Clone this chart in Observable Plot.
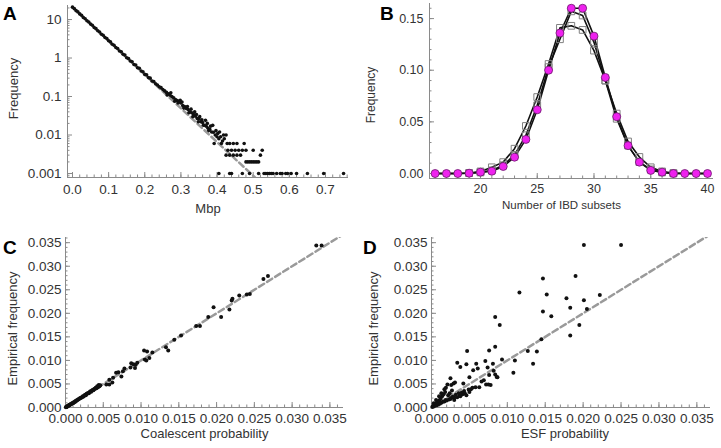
<!DOCTYPE html>
<html><head><meta charset="utf-8">
<script src="https://cdn.jsdelivr.net/npm/d3@7"></script>
<script src="https://cdn.jsdelivr.net/npm/@observablehq/plot@0.6"></script>
<style>
body{margin:0;background:#fff;}
#wrap{position:relative;width:721px;height:448px;overflow:hidden;font-family:"Liberation Sans",Arial,Helvetica,sans-serif;background:#fff;}
.panel{position:absolute;}
.tag{position:absolute;font-weight:bold;font-size:19px;line-height:19px;color:#000;}
</style></head><body><div id="wrap"></div>
<script>
// ---------- Panel A data ----------
const mbpMain = [0,0.005,0.01,0.015,0.02,0.025,0.03,0.035,0.04,0.045,0.05,0.055,0.06,0.065,0.07,0.075,0.08,0.085,0.09,0.095,0.1,0.105,0.11,0.115,0.12,0.125,0.13,0.135,0.14,0.145,0.15,0.155,0.16,0.165,0.17,0.175,0.18,0.185,0.19,0.195,0.2,0.205,0.21,0.215,0.22,0.225,0.23,0.235,0.24,0.245,0.25,0.255,0.26,0.265,0.27,0.275,0.28,0.285,0.29,0.295,0.3,0.305,0.31,0.315,0.32,0.325,0.33,0.335,0.34,0.345,0.35,0.355,0.36,0.365,0.37,0.375,0.38,0.385,0.39,0.395,0.4,0.405,0.41,0.415,0.42];
const freqMain = [21.0,19.2,17.0,15.8,14.0,12.9,11.3,10.5,9.3,8.6,
  7.6,7.1,6.2,5.8,5.1,4.75,4.15,3.9,3.4,3.2,
  2.8,2.62,2.28,2.15,1.87,1.77,1.52,1.45,1.25,1.19,
  1.02,0.97,0.84,0.80,0.68,0.66,0.56,0.54,0.46,0.44,
  0.375,0.365,0.31,0.30,0.252,0.245,0.215,0.20,0.18,0.17,
  0.152,0.140,0.128,0.118,0.108,0.100,0.092,0.083,0.078,0.072,
  0.068,0.058,0.055,0.049,0.046,0.040,0.038,0.034,0.031,0.027,
  0.026,0.022,0.021,0.018,0.017,0.015,0.014,0.012,0.0118,0.010,
  0.009,0.008,0.009,0.007,0.008];
const mbpScatter = [0.262,0.272,0.283,0.292,0.298,0.303,0.308,0.318,0.322,0.328,0.333,0.338,0.343,0.348,0.352,0.358,0.362,0.368,0.373,0.377,0.382,0.388,0.392,0.397,0.402,0.407,0.412,0.418,0.425,0.428];
const freqScatter = [0.110,0.125,0.075,0.068,0.080,0.072,0.050,0.055,0.038,0.047,0.030,0.040,0.034,0.022,0.030,0.025,0.018,0.024,0.020,0.013,0.017,0.0178,0.006,0.013,0.011,0.012,0.006,0.010,0.010,0.006];
const mbpTail = [0.435,0.445,0.455,0.475,
  0.43,0.44,0.45,0.46,0.47,0.48,0.50,0.525,
  0.425,0.435,0.445,0.455,0.465,0.52,
  0.48,0.485,0.49,0.495,0.50,0.505,0.51,0.515,
  0.405,0.435,0.44,0.47,0.49,0.515,0.53,0.535,0.54,0.545,0.55,0.555,0.565,0.575,0.58,0.59,0.595,0.605,0.62,0.65,0.695,0.75];
const freqTail = [0.006,0.006,0.006,0.006,
  0.004,0.004,0.004,0.004,0.004,0.004,0.004,0.004,
  0.003,0.003,0.003,0.003,0.003,0.003,
  0.002,0.002,0.002,0.002,0.002,0.002,0.002,0.002,
  0.001,0.001,0.001,0.001,0.001,0.001,0.001,0.001,0.001,0.001,0.001,0.001,0.001,0.001,0.001,0.001,0.001,0.001,0.001,0.001,0.001,0.001];
const fitMbp = [0, 0.505];
const fitFreq = [21, 0.00079];
const ticksAx = [0,0.1,0.2,0.3,0.4,0.5,0.6,0.7];
const ticksAy = [0.001,0.01,0.1,1,10];

// ---------- Panel B data ----------
const nIBD = [16,17,18,19,20,21,22,23,24,25,26,27,28,29,30,31,32,33,34,35,36,37,38,39,40];
const freqTheory = [0,0,0,0.0003,0.0013,0.0022,0.0068,0.0158,0.033,0.0617,0.100,0.136,0.160,0.160,0.133,0.093,0.055,0.027,0.011,0.003,0.0013,0,0,0,0];
const freqSimA = [0,0,0,0.0005,0.002,0.006,0.011,0.024,0.046,0.074,0.106,0.141,0.143,0.139,0.119,0.090,0.058,0.031,0.016,0.006,0.002,0.0005,0,0,0];
const freqSimB = [0,0,0,0.0003,0.001,0.003,0.008,0.018,0.037,0.066,0.103,0.130,0.157,0.153,0.127,0.090,0.053,0.027,0.011,0.004,0.001,0,0,0,0];
const ticksBx = [20,25,30,35,40];
const ticksBy = [0,0.05,0.10,0.15];

// ---------- Panel C data ----------
const coalProb = [0.00005,0.0001,0.00015,0.0002,0.00025,0.0003,0.00035,0.0004,0.00045,0.0005,0.00055,0.0006,0.0007,0.00075,0.0008,0.0009,0.001,0.00105,0.0011,0.0012,0.0013,0.00135,0.0014,0.0015,0.0016,0.0017,0.0018,0.0019,0.002,0.0021,0.0022,0.0023,0.0024,0.0025,0.0026,0.0027,0.0028,0.0029,0.003,0.0031,0.0032,0.0033,0.0034,0.0035,0.0036,0.0037,0.0038,0.0039,0.004,0.0041,0.0042,0.0043,0.0044,0.0045,0.0046,
  0.0054,0.0058,0.0058,0.0063,0.0062,0.0067,0.0070,0.0074,0.0076,0.0078,0.0086,0.0087,0.0090,0.0093,0.0095,0.0092,0.0105,0.0107,0.0111,0.0108,0.0115,0.0104,0.0133,0.0136,0.0144,0.0153,0.0173,0.0178,0.0189,0.0196,0.0206,0.0217,0.0220,0.0221,0.0230,0.0240,0.0244,0.0262,0.0268,0.0332,0.0339];
const empFreqC = [0.00005,0.0001,0.00012,0.00022,0.00025,0.00028,0.00036,0.00042,0.00044,0.00052,0.00056,0.0006,0.00068,0.00078,0.00082,0.00088,0.00102,0.00098,0.00112,0.00118,0.00132,0.00128,0.00145,0.00152,0.00158,0.00175,0.00178,0.00195,0.002,0.00215,0.00218,0.0024,0.00235,0.00255,0.0027,0.00262,0.0029,0.00295,0.0031,0.00305,0.0033,0.00345,0.00335,0.0036,0.0037,0.00365,0.00395,0.004,0.0042,0.0041,0.0045,0.0043,0.0048,0.0045,0.0047,
  0.0049,0.0049,0.0059,0.0063,0.0053,0.0074,0.0075,0.0066,0.0077,0.0083,0.0085,0.0094,0.0092,0.0091,0.0095,0.0084,0.0102,0.0100,0.0105,0.0119,0.0117,0.0121,0.0128,0.0121,0.0144,0.0153,0.0173,0.0173,0.0192,0.0213,0.0192,0.0208,0.0227,0.0231,0.0238,0.0240,0.0241,0.0273,0.0279,0.0344,0.0344];

// ---------- Panel D data ----------
const esfProb = [0.0201,0.0250,0.0147,0.0190,0.0116,0.0152,0.0178,0.0201,0.0222,0.0147,0.0158,0.0183,0.0205,0.0084,0.0090,0.0195,0.0183,0.0145,0.0047,0.0076,0.0084,0.0093,0.0110,0.0127,0.0139,0.0134,0.0108,0.0034,0.0046,0.0059,0.0061,0.0071,0.0074,0.0081,0.0076,0.0082,0.0084,0.0086,0.0087,0.0050,0.0055,0.0038,0.0025,0.0029,0.0031,0.0072,0.0075,0.0078,0.0066,0.0069,0.0063,0.0058,0.0054,0.0049,0.0043,0.0041,0.0037,0.0030,0.0025,0.0019,0.0017,0.0019,0.0021,0.0026,
  0.0001,0.0002,0.0003,0.0004,0.0005,0.0006,0.0007,0.0008,0.0009,0.0010,0.0011,0.0012,0.0013,0.0014,0.0015,0.0016,0.0017,0.0018,0.0020,0.0022,0.0023,0.0024,0.0026,0.0028,0.0030,0.0032,0.0034,0.0036,0.0038,0.0040,0.0044,0.0046,0.0050,0.0052,0.0010,0.0006,0.0013,0.0027,0.0003,0.0042];
const empFreqD = [0.0345,0.0345,0.0274,0.0279,0.0244,0.0240,0.0232,0.0228,0.0239,0.0204,0.0194,0.0212,0.0209,0.0192,0.0175,0.0175,0.0153,0.0145,0.0120,0.0121,0.0129,0.0102,0.0100,0.0120,0.0119,0.0093,0.0074,0.0095,0.0092,0.0093,0.0083,0.0099,0.0085,0.0093,0.0069,0.0078,0.0070,0.0065,0.0064,0.0064,0.0079,0.0086,0.0062,0.0051,0.0053,0.0049,0.0049,0.0048,0.0055,0.0058,0.0043,0.0043,0.0042,0.0038,0.0035,0.0028,0.0025,0.0021,0.0018,0.0016,0.0039,0.0042,0.0049,0.0048,
  0.0001,0.0003,0.0002,0.0006,0.0004,0.0009,0.0005,0.0012,0.0007,0.0015,0.0008,0.0019,0.0010,0.0024,0.0012,0.0028,0.0013,0.0033,0.0015,0.0026,0.0017,0.0030,0.0020,0.0023,0.0016,0.0027,0.0022,0.0030,0.0024,0.0032,0.0030,0.0026,0.0033,0.0039,0.0024,0.0016,0.0030,0.0036,0.0009,0.0051];
const ticksCD = [0,0.005,0.010,0.015,0.020,0.025,0.030,0.035];
const diag = [0, 0.037];

// ---------- styling helpers ----------
const FONT = '"Liberation Sans", Arial, Helvetica, sans-serif';
const AX = "#8a8a8a";
const TXT = "#333";

function axes({xMajor, xMinor, xFmt, yMajor, yMinor, yFmt, xMin, yMin, xPad = 7, yPad = 6, fs = 13}) {
  return [
    Plot.axisX(xMinor, {tickSize: 2.5, dy: -2.5, fill: "none", stroke: AX, label: null}),
    Plot.axisX(xMajor, {tickSize: 5, dy: -5, fill: "none", stroke: AX, label: null}),
    Plot.axisY(yMinor, {tickSize: 2.5, dx: 2.5, fill: "none", stroke: AX, label: null}),
    Plot.axisY(yMajor, {tickSize: 5, dx: 5, fill: "none", stroke: AX, label: null}),
    Plot.axisX(xMajor, {tickSize: 0, tickPadding: xPad, tickFormat: xFmt, fill: TXT, label: null, fontSize: fs}),
    Plot.axisY(yMajor, {tickSize: 0, tickPadding: yPad, tickFormat: yFmt, fill: TXT, label: null, fontSize: fs}),
    Plot.ruleY([yMin], {stroke: AX, strokeWidth: 1}),
    Plot.ruleX([xMin], {stroke: AX, strokeWidth: 1})
  ];
}
function title(txt, opts) { return Plot.text([txt], {fill: TXT, fontSize: 13, textAnchor: "middle", ...opts}); }

const wrap = document.getElementById("wrap");
function place(svg, left, top) {
  svg.classList.add("panel");
  svg.style.left = left + "px";
  svg.style.top = top + "px";
  wrap.appendChild(svg);
}
function tag(t, left, top) {
  const d = document.createElement("div");
  d.className = "tag"; d.textContent = t;
  d.style.left = left + "px"; d.style.top = top + "px";
  wrap.appendChild(d);
}
const baseStyle = {fontFamily: FONT, fontSize: "13px", background: "transparent", color: TXT, overflow: "visible"};

// ---------- Panel A ----------
const xDomA = [-0.0138, 0.7637], yDomA = [0.000787, 23.15];
const logMinor = [];
for (const e of [0.0001, 0.001, 0.01, 0.1, 1, 10]) for (const m of [2,3,4,5,6,7,8,9]) logMinor.push(e * m);
const A = Plot.plot({
  width: 360, height: 224, marginLeft: 67, marginRight: 12, marginTop: 5, marginBottom: 47,
  style: baseStyle,
  x: {domain: xDomA}, y: {type: "log", domain: yDomA},
  marks: [
    ...axes({xMajor: ticksAx, xMinor: d3.range(0, 0.761, 0.02), xFmt: d3.format(".1f"),
             yMajor: ticksAy, yMinor: logMinor.filter(v => v > yDomA[0] && v < yDomA[1]), yFmt: d => String(d),
             xMin: xDomA[0], yMin: yDomA[0], fs: 13.5}),
    Plot.line(fitMbp.map((m, i) => [m, fitFreq[i]]), {stroke: "#9a9a9a", strokeWidth: 2.5, strokeDasharray: "6,3.5", clip: true}),
    Plot.dot(mbpMain.map((m, i) => [m, freqMain[i]]), {r: 1.8, fill: "#111"}),
    Plot.dot(mbpScatter.map((m, i) => [m, freqScatter[i]]), {r: 1.8, fill: "#111"}),
    Plot.dot(mbpTail.map((m, i) => [m, freqTail[i]]), {r: 1.8, fill: "#111"}),
    title("Mbp", {frameAnchor: "bottom", dy: 35}),
    title("Frequency", {frameAnchor: "left", rotate: -90, dx: -54, dy: -3})
  ]
});
place(A, 0, 0); tag("A", 3, 4);

// ---------- Panel B ----------
const xDomB = [15.507, 40.53], yDomB = [-0.00484, 0.1646];
const rowsB = nIBD.map((n, i) => ({n, t: freqTheory[i], a: freqSimA[i], b: freqSimB[i]}));
const B = Plot.plot({
  width: 361, height: 224, marginLeft: 69, marginRight: 8, marginTop: 3, marginBottom: 46,
  style: baseStyle,
  x: {domain: xDomB}, y: {domain: yDomB},
  marks: [
    ...axes({xMajor: ticksBx, xMinor: d3.range(16, 41, 1), xFmt: d => String(d),
             yMajor: ticksBy, yMinor: d3.range(0, 0.1646, 0.01), yFmt: d3.format(".2f"),
             xMin: xDomB[0], yMin: yDomB[0], fs: 12.5, xPad: 6}),
    Plot.line(rowsB, {x: "n", y: "a", stroke: "#111", strokeWidth: 1.6}),
    Plot.line(rowsB, {x: "n", y: "b", stroke: "#111", strokeWidth: 1.6}),
    Plot.line(rowsB, {x: "n", y: "t", stroke: "#111", strokeWidth: 1.6}),
    Plot.dot(rowsB.filter(d => d.n >= 19 && d.n <= 37), {x: "n", y: "a", symbol: "square", r: 3.8, stroke: "#808080", fill: "none", strokeWidth: 1}),
    Plot.dot(rowsB.filter(d => d.n >= 19 && d.n <= 37), {x: "n", y: "b", symbol: "square", r: 3.8, stroke: "#808080", fill: "none", strokeWidth: 1}),
    Plot.dot(rowsB, {x: "n", y: "t", r: 4, fill: "#ee22ee", stroke: "#6a1a6a", strokeWidth: 0.8}),
    title("Number of IBD subsets", {frameAnchor: "bottom", dy: 30, dx: -10, fontSize: 11.5}),
    title("Frequency", {frameAnchor: "left", rotate: -90, dx: -58, dy: 4, fontSize: 12})
  ]
});
place(B, 360, 0); tag("B", 380, 4);

// ---------- Panel C ----------
const xDomC = [0, 0.0368], yDomC = [0, 0.0361];
const cdMinor = d3.range(0, 0.0366, 0.001);
const fmt3 = d3.format(".3f");
const C = Plot.plot({
  width: 360, height: 224, marginLeft: 65, marginRight: 17, marginTop: 13, marginBottom: 41,
  style: baseStyle,
  x: {domain: xDomC}, y: {domain: yDomC},
  marks: [
    ...axes({xMajor: ticksCD, xMinor: cdMinor, xFmt: fmt3, yMajor: ticksCD, yMinor: cdMinor, yFmt: fmt3,
             xMin: xDomC[0], yMin: yDomC[0], xPad: 6, yPad: 4, fs: 13.5}),
    Plot.line(diag.map(v => [v, v]), {stroke: "#9a9a9a", strokeWidth: 2.5, strokeDasharray: "6,3.5", clip: true}),
    Plot.dot(coalProb.map((v, i) => [v, empFreqC[i]]), {r: 2, fill: "#111"}),
    title("Coalescent probability", {frameAnchor: "bottom", dy: 30}),
    title("Empirical frequency", {frameAnchor: "left", rotate: -90, dx: -53, dy: 6})
  ]
});
place(C, 0, 224); tag("C", 3, 238);

// ---------- Panel D ----------
const D = Plot.plot({
  width: 361, height: 224, marginLeft: 71, marginRight: 11, marginTop: 13, marginBottom: 41,
  style: baseStyle,
  x: {domain: xDomC}, y: {domain: yDomC},
  marks: [
    ...axes({xMajor: ticksCD, xMinor: cdMinor, xFmt: fmt3, yMajor: ticksCD, yMinor: cdMinor, yFmt: fmt3,
             xMin: xDomC[0], yMin: yDomC[0], xPad: 6, yPad: 4, fs: 13.5}),
    Plot.line(diag.map(v => [v, v]), {stroke: "#9a9a9a", strokeWidth: 2.5, strokeDasharray: "6,3.5", clip: true}),
    Plot.dot(esfProb.map((v, i) => [v, empFreqD[i]]), {r: 2, fill: "#111"}),
    title("ESF probability", {frameAnchor: "bottom", dy: 30, dx: -6}),
    title("Empirical frequency", {frameAnchor: "left", rotate: -90, dx: -58, dy: 6})
  ]
});
place(D, 360, 224); tag("D", 363, 238);
</script></body></html>
